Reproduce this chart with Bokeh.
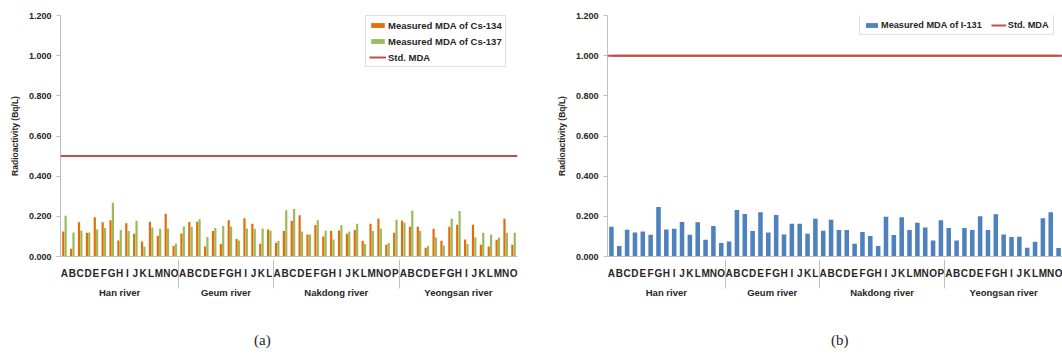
from bokeh.plotting import figure
from bokeh.models import (FactorRange, Range1d, FixedTicker, NumeralTickFormatter,
                          Span, Legend, LegendItem, ColumnDataSource, Div)
from bokeh.transform import dodge
from bokeh.layouts import row, column
from bokeh.embed import file_html
from bokeh.resources import INLINE

rivers = ["Han river", "Geum river", "Nakdong river", "Yeongsan river"]
sites = {
    "Han river": list("ABCDEFGHIJKLMNO"),
    "Geum river": list("ABCDEFGHIJKL"),
    "Nakdong river": list("ABCDEFGHIJKLMNOP"),
    "Yeongsan river": list("ABCDEFGHIJKLMNO"),
}

cs134 = [0.125, 0.038, 0.170, 0.118, 0.195, 0.170, 0.180, 0.080, 0.165, 0.113, 0.075, 0.173, 0.103, 0.213, 0.052,
         0.115, 0.172, 0.173, 0.050, 0.127, 0.062, 0.180, 0.087, 0.190, 0.163, 0.063, 0.135,
         0.068, 0.127, 0.178, 0.205, 0.110, 0.157, 0.100, 0.128, 0.130, 0.113, 0.132, 0.078, 0.163, 0.188, 0.058, 0.118,
         0.178, 0.148, 0.148, 0.043, 0.138, 0.078, 0.148, 0.158, 0.085, 0.158, 0.058, 0.050, 0.083, 0.188, 0.058]
cs137 = [0.203, 0.120, 0.130, 0.120, 0.135, 0.142, 0.268, 0.132, 0.127, 0.178, 0.048, 0.145, 0.138, 0.140, 0.065,
         0.150, 0.147, 0.185, 0.097, 0.142, 0.152, 0.150, 0.080, 0.140, 0.138, 0.140, 0.128,
         0.077, 0.230, 0.237, 0.125, 0.110, 0.180, 0.128, 0.085, 0.157, 0.125, 0.163, 0.062, 0.127, 0.140, 0.067, 0.183,
         0.168, 0.228, 0.127, 0.053, 0.095, 0.055, 0.188, 0.227, 0.062, 0.095, 0.118, 0.108, 0.095, 0.118, 0.118]
i131 = [0.148, 0.052, 0.133, 0.120, 0.125, 0.108, 0.247, 0.135, 0.138, 0.172, 0.108, 0.170, 0.083, 0.152, 0.067,
        0.075, 0.232, 0.212, 0.127, 0.220, 0.120, 0.207, 0.110, 0.163, 0.163, 0.113, 0.188,
        0.128, 0.183, 0.132, 0.132, 0.063, 0.122, 0.102, 0.052, 0.198, 0.107, 0.195, 0.132, 0.168, 0.145, 0.080, 0.180,
        0.142, 0.080, 0.142, 0.132, 0.200, 0.132, 0.210, 0.110, 0.097, 0.098, 0.043, 0.073, 0.190, 0.220, 0.042]
std_mda_cs = 0.5
std_mda_i = 1.0
y_ticks = [0.0, 0.2, 0.4, 0.6, 0.8, 1.0, 1.2]

factors = [(r, s) for r in rivers for s in sites[r]]
src = ColumnDataSource(dict(x=factors, cs134=cs134, cs137=cs137, i131=i131))
std_x = [factors[0], factors[-1]]

FONT = "Liberation Sans"
TXT = "#262626"
GREY = "#BFBFBF"
ORANGE = "#E46C0A"
GREEN = "#9BBB59"
BLUE = "#4F81BD"
RED = "#C0504D"


def base(width, bl, br):
    p = figure(width=width, height=326,
               x_range=FactorRange(*factors, range_padding=0, group_padding=0,
                                   subgroup_padding=0, factor_padding=0),
               y_range=Range1d(0, 1.2), output_backend="svg", toolbar_location=None,
               min_border_left=bl, min_border_right=br, min_border_top=15,
               min_border_bottom=70)
    p.outline_line_color = None
    p.xgrid.visible = False
    p.ygrid.visible = False
    p.yaxis.ticker = FixedTicker(ticks=y_ticks)
    p.yaxis.formatter = NumeralTickFormatter(format="0.000")
    p.yaxis.axis_line_color = GREY
    p.yaxis.major_tick_line_color = GREY
    p.yaxis.major_tick_out = 4
    p.yaxis.major_tick_in = 0
    p.yaxis.minor_tick_line_color = None
    p.yaxis.major_label_text_font = FONT
    p.yaxis.major_label_text_font_style = "bold"
    p.yaxis.major_label_text_font_size = "9px"
    p.yaxis.major_label_text_color = TXT
    p.yaxis.major_label_standoff = 5
    p.yaxis.axis_label = "Radioactivity (Bq/L)"
    p.yaxis.axis_label_text_font = FONT
    p.yaxis.axis_label_text_font_style = "bold"
    p.yaxis.axis_label_text_font_size = "8.5px"
    p.yaxis.axis_label_text_color = TXT
    p.yaxis.axis_label_standoff = 6

    ax = p.xaxis[0]
    ax.axis_line_color = GREY
    ax.major_tick_line_color = None
    ax.major_label_text_font = FONT
    ax.major_label_text_font_style = "bold"
    ax.major_label_text_font_size = "10px"
    ax.major_label_text_color = TXT
    ax.group_text_font = FONT
    ax.group_text_font_style = "bold"
    ax.group_text_font_size = "9.5px"
    ax.group_text_color = TXT
    ax.separator_line_color = GREY
    ax.separator_line_width = 1
    return p


def caption(text, width, left):
    return Div(text=text, width=width, height=24, margin=(0, 0, 0, 0),
               styles={"font-family": "Liberation Serif", "font-size": "15px",
                       "color": TXT, "padding-left": f"{left}px", "padding-top": "6px",
                       "line-height": "17px"})


def legend_style(**kw):
    base_kw = dict(label_text_font=FONT, label_text_font_style="bold",
                   label_text_font_size="9.5px", label_text_color=TXT,
                   border_line_color=GREY, background_fill_alpha=1,
                   glyph_width=17, glyph_height=6, label_standoff=2)
    base_kw.update(kw)
    return base_kw


# ---- panel (a)
pa = base(545, 60, 28)
r1 = pa.vbar(x=dodge("x", -0.15, range=pa.x_range), top="cs134", width=0.28, source=src,
             fill_color=ORANGE, line_color=None)
r2 = pa.vbar(x=dodge("x", 0.15, range=pa.x_range), top="cs137", width=0.28, source=src,
             fill_color=GREEN, line_color=None)
pa.add_layout(Span(location=std_mda_cs, dimension="width", line_color=RED, line_width=2))
r3 = pa.line(x=std_x, y=[std_mda_cs, std_mda_cs], line_color=RED, line_width=2)
leg_a = Legend(items=[LegendItem(label="Measured MDA of Cs-134", renderers=[r1]),
                      LegendItem(label="Measured MDA of Cs-137", renderers=[r2]),
                      LegendItem(label="Std. MDA", renderers=[r3])],
               location=(305, 189), margin=0, padding=3, spacing=4, label_height=12,
               **legend_style())
pa.add_layout(leg_a)

# ---- panel (b)
pb = base(517, 62, 0)
r4 = pb.vbar(x="x", top="i131", width=0.58, source=src, fill_color=BLUE, line_color=None)
pb.add_layout(Span(location=std_mda_i, dimension="width", line_color=RED, line_width=2))
r5 = pb.line(x=std_x, y=[std_mda_i, std_mda_i], line_color=RED, line_width=2)
leg_b = Legend(items=[LegendItem(label="Measured MDA of I-131", renderers=[r4]),
                      LegendItem(label="Std. MDA", renderers=[r5])],
               location=(252, 221), orientation="horizontal", margin=0, padding=4,
               spacing=9, label_height=11,
               **legend_style(glyph_width=15, label_text_font_size="9.2px"))
pb.add_layout(leg_b)

layout = row(column(pa, caption("(a)", 545, 254)), column(pb, caption("(b)", 517, 286)))
open("out.html", "w").write(file_html(layout, INLINE))
